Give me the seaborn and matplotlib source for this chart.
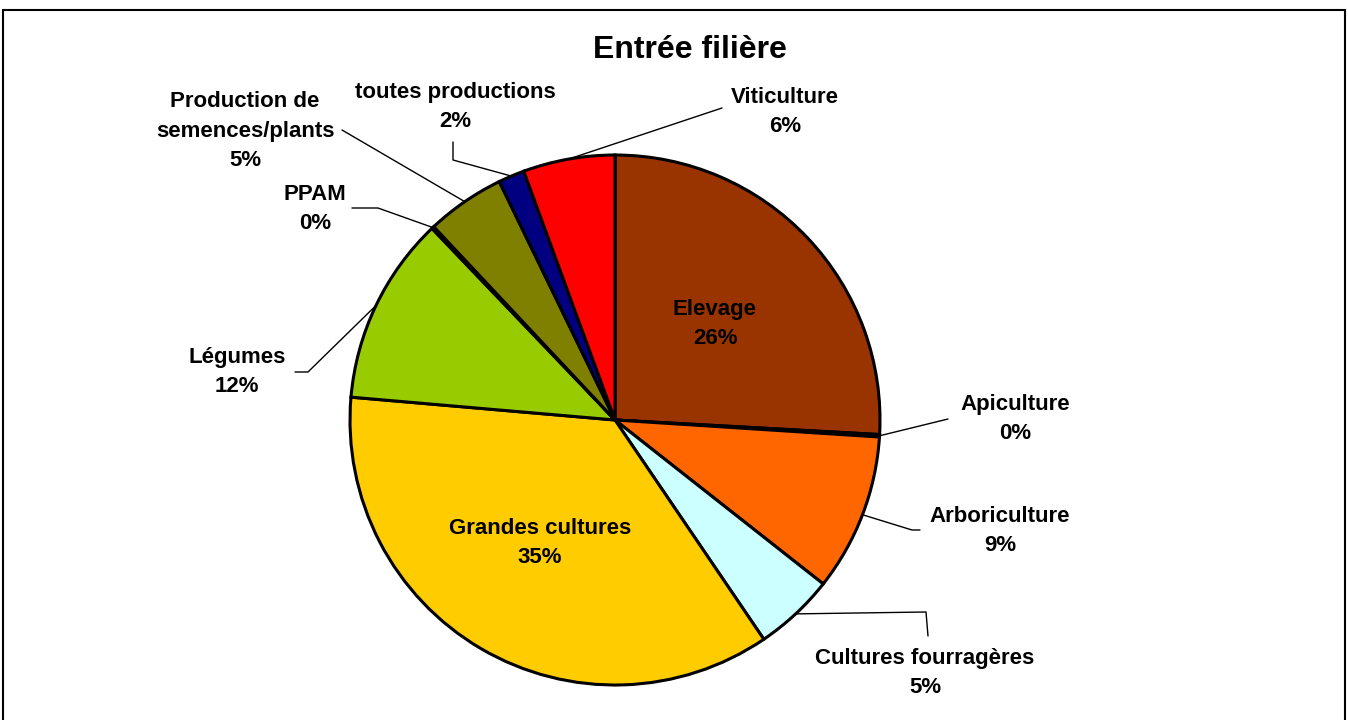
import numpy as np
import matplotlib
matplotlib.use('Agg')
import matplotlib.pyplot as plt
import seaborn as sns
from matplotlib.patches import Rectangle

sns.set_style('white')
plt.rcParams['font.family'] = ['Liberation Sans', 'DejaVu Sans']
plt.rcParams['text.color'] = 'black'

# data (clockwise from 12 o'clock)
categories = ['Elevage', 'Apiculture', 'Arboriculture', 'Cultures fourragères',
              'Grandes cultures', 'Légumes', 'PPAM', 'Production de\nsemences/plants',
              'toutes productions', 'Viticulture']
values = [25.9, 0.15, 9.6, 4.9, 35.9, 11.5, 0.15, 4.8, 1.6, 5.6]
pct_labels = ['26%', '0%', '9%', '5%', '35%', '12%', '0%', '5%', '2%', '6%']
colors = ['#993300', '#FF9900', '#FF6600', '#CCFFFF', '#FFCC00',
          '#99CC00', '#008080', '#808000', '#000080', '#FF0000']

W, H = 1348, 720
CX, CY, R = 615, 420, 265


def px(x, y):
    # pixel position -> data units of the pie axes
    return (x - CX) / R, (CY - y) / R


fig = plt.figure(figsize=(W / 100, H / 100), dpi=100)
ax = fig.add_axes([0, 0, 1, 1])
wedges, _ = ax.pie(values, colors=colors, startangle=90, counterclock=False,
                   wedgeprops=dict(edgecolor='black', linewidth=2.2))
ax.set_xlim((0 - CX) / R, (W - CX) / R)
ax.set_ylim((CY - H) / R, CY / R)
ax.set_aspect('equal')
ax.axis('off')

# label placement (pixels) and leader line elbows
label_pos = {
    'Elevage': (715, 324), 'Apiculture': (1015, 419), 'Arboriculture': (1000, 531),
    'Cultures fourragères': (925, 673), 'Grandes cultures': (540, 543),
    'Légumes': (237, 372), 'PPAM': (315, 209), 'Production de\nsemences/plants': (245, 131),
    'toutes productions': (455, 107), 'Viticulture': (785, 112),
}
leaders = {
    'Apiculture': [(948, 419)],
    'Arboriculture': [(920, 530), (912, 530)],
    'Cultures fourragères': [(928, 636), (926, 612)],
    'Légumes': [(295, 372), (308, 372)],
    'PPAM': [(352, 208), (378, 208)],
    'Production de\nsemences/plants': [(342, 130)],
    'toutes productions': [(453, 142), (453, 160)],
    'Viticulture': [(722, 108)],
}

for w, cat, pct in zip(wedges, categories, pct_labels):
    x, y = px(*label_pos[cat])
    ax.text(x, y, cat + '\n' + pct, ha='center', va='center', fontsize=16,
            fontweight='bold', linespacing=1.55, color='black')
    if cat in leaders:
        mid = np.deg2rad((w.theta1 + w.theta2) / 2)
        pts = [px(*p) for p in leaders[cat]] + [(np.cos(mid), np.sin(mid))]
        ax.plot([p[0] for p in pts], [p[1] for p in pts], color='black', lw=1)

fig.text(690 / W, 1 - 50 / H, 'Entrée filière', ha='center', va='center',
         fontsize=23, fontweight='bold', color='black')

fig.add_artist(Rectangle((3 / W, -0.05), 1342 / W, 1.05 - 10 / H, transform=fig.transFigure,
                         fill=False, edgecolor='black', lw=1.5))

fig.savefig('out.png', dpi=100, facecolor='white')
